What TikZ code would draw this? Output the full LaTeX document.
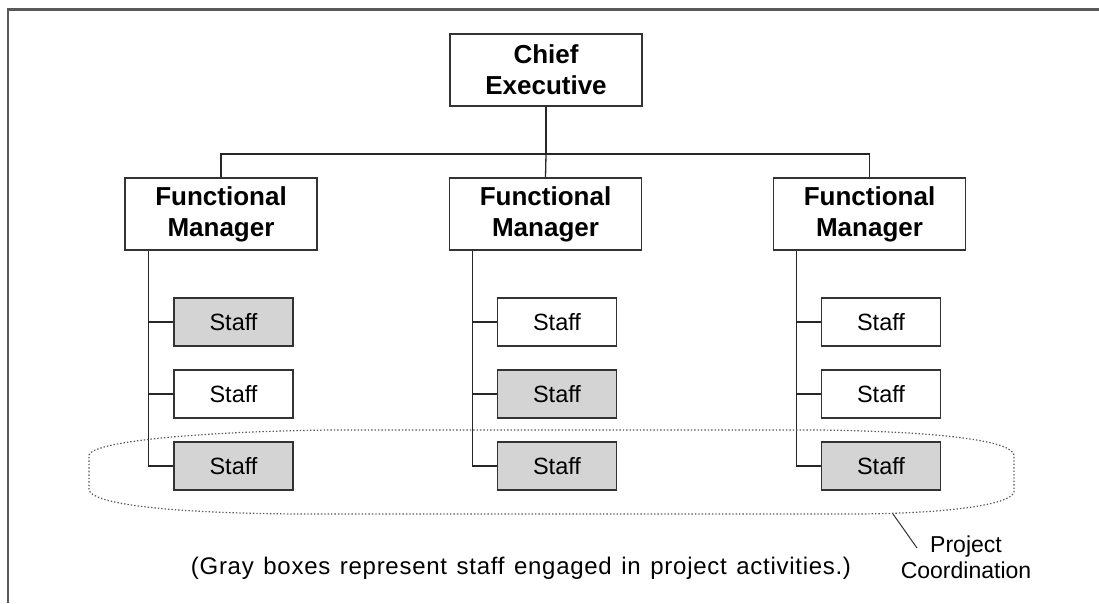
\documentclass[tikz,border=0pt]{standalone}
\usepackage{fontspec}
\setmainfont{Liberation Sans}
\newfontfamily\capfont[LetterSpace=3,WordSpace=1.3]{Liberation Sans}
\begin{document}
\begin{tikzpicture}[x=1pt,y=-1pt,
  box/.style={draw=black!80, line width=1.4pt, rectangle, inner sep=0pt, align=center},
  headbox/.style={box, minimum width=192pt, minimum height=72pt,
    font=\fontsize{26}{31}\selectfont\bfseries},
  staffbox/.style={box, minimum width=119pt, minimum height=48pt,
    font=\fontsize{23.5}{27}\selectfont},
  grayfill/.style={fill=black!17},
  conn/.style={draw=black!85, line width=1.3pt},
  coord/.style={draw=black!65, line width=1.2pt, dash pattern=on 1.4pt off 2pt},
  lbl/.style={font=\fontsize{23}{26}\selectfont, inner sep=0pt, align=center}
]
\useasboundingbox (0,0) rectangle (1099,603);
% frame
\draw[black!65, line width=2.4pt] (8,603) -- (8,9.5) -- (1099,9.5);

% nodes
\node[headbox] (chief) at (546,70) {Chief\\Executive};
\node[headbox] (fm1) at (221,214) {Functional\\Manager};
\node[headbox] (fm2) at (545.5,214) {Functional\\Manager};
\node[headbox] (fm3) at (869.5,214) {Functional\\Manager};

\node[staffbox,grayfill] (s11) at (233.5,322) {Staff};
\node[staffbox]          (s12) at (233.5,394) {Staff};
\node[staffbox,grayfill] (s13) at (233.5,466) {Staff};

\node[staffbox]          (s21) at (557,322) {Staff};
\node[staffbox,grayfill] (s22) at (557,394) {Staff};
\node[staffbox,grayfill] (s23) at (557,466) {Staff};

\node[staffbox]          (s31) at (881,322) {Staff};
\node[staffbox]          (s32) at (881,394) {Staff};
\node[staffbox,grayfill] (s33) at (881,466) {Staff};

% top connectors
\coordinate (bus) at (546,154);
\draw[conn] (chief.south) -- (bus);
\draw[conn] (fm1.north) |- (bus) -| (fm3.north);
\draw[conn] (bus) -- (fm2.north);

% stems
\foreach \f/\a/\b/\c in {fm1/s11/s12/s13, fm2/s21/s22/s23, fm3/s31/s32/s33}{
  \coordinate (\f-st) at ([xshift=24pt]\f.south west);
  \draw[conn] (\f-st) |- (\c.west);
  \draw[conn] (\f-st |- \a.west) -- (\a.west);
  \draw[conn] (\f-st |- \b.west) -- (\b.west);
}

% project coordination outline
\draw[coord] (89,472) -- (89,455) .. controls (92,443) and (180,432) .. (330,430)
  -- (820,430) .. controls (960,432) and (1012,443) .. (1014,455)
  -- (1014,492) .. controls (1012,503) and (960,513) .. (860,514)
  -- (300,514) .. controls (150,513) and (92,502) .. (89,490) -- cycle;
\coordinate (pcpt) at (893,514);
\node[lbl] (pclbl) at (966,557) {Project\\Coordination};
\draw[black!80, line width=1pt] (pcpt) -- (917,548);

% caption
\node[lbl, anchor=base, font=\fontsize{24}{26}\capfont] (cap) at (521,574) {(Gray boxes represent staff engaged in project activities.)};
\end{tikzpicture}
\end{document}
